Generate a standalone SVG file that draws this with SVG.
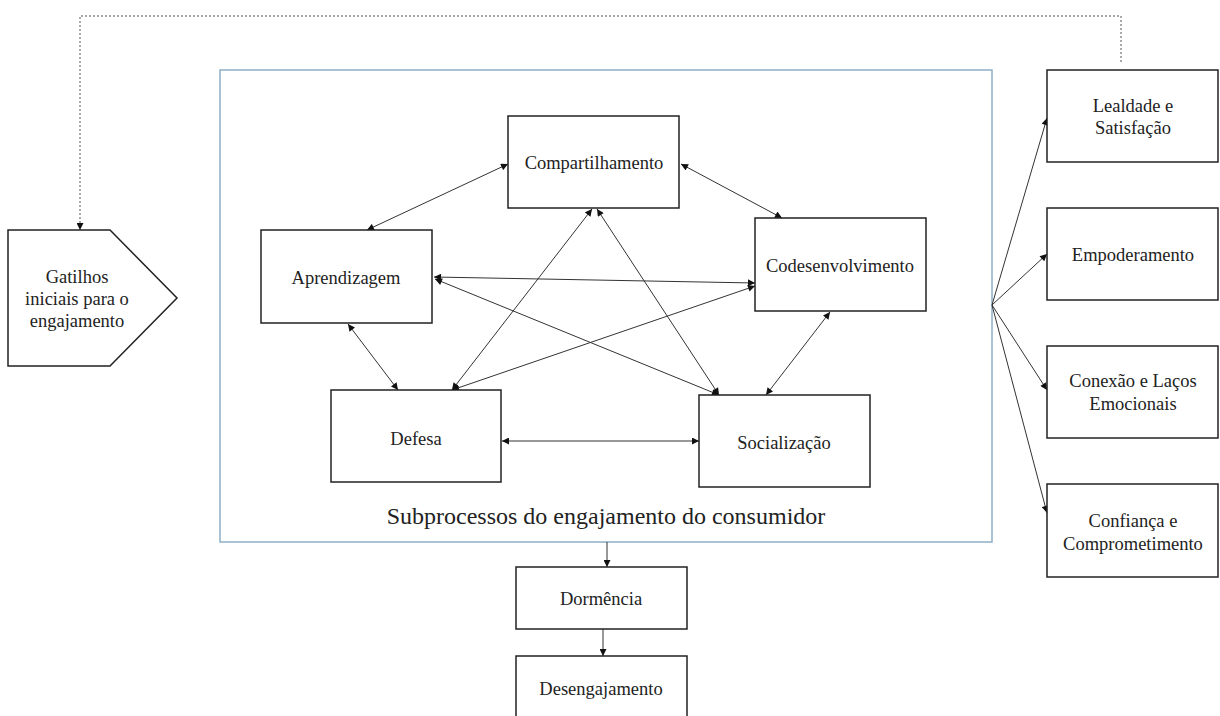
<svg xmlns="http://www.w3.org/2000/svg" width="1220" height="716" viewBox="0 0 1220 716">
<style>
.box{fill:#fff;stroke:#222;stroke-width:1.5}
.t{font-family:'Liberation Serif','DejaVu Serif',serif;font-size:18.5px;fill:#222;text-anchor:middle}
.c{fill:none;stroke:#333;stroke-width:1}
.b{marker-start:url(#ah);marker-end:url(#ah)}
.e{marker-end:url(#ah)}
</style>
<defs>
<marker id="ah" viewBox="0 0 10 10" refX="10" refY="5" markerWidth="9" markerHeight="7" markerUnits="userSpaceOnUse" orient="auto-start-reverse">
<path d="M0,0 L10,5 L0,10 z" fill="#111"/>
</marker>
</defs>
<rect width="1220" height="716" fill="#fff"/>

<g id="container">
<rect x="220" y="70" width="772" height="472" fill="none" stroke="#8fb0c6" stroke-width="1.5"/>
<text x="606" y="524" class="t" font-family="Liberation Serif, DejaVu Serif, serif" style="font-size:24px">Subprocessos do engajamento do consumidor</text>
</g>

<g id="connectors">
<path class="c e" d="M1121,62 V16 H80 V230" stroke-dasharray="2,2" style="stroke:#555"/>
<line class="c b" x1="367" y1="230" x2="508" y2="164"/>
<line class="c b" x1="681" y1="164" x2="782" y2="218"/>
<line class="c b" x1="434" y1="277" x2="755" y2="283"/>
<line class="c b" x1="435" y1="279" x2="719" y2="395"/>
<line class="c b" x1="592" y1="209" x2="452" y2="390"/>
<line class="c b" x1="597" y1="209" x2="719" y2="395"/>
<line class="c b" x1="755" y1="286" x2="452" y2="390"/>
<line class="c b" x1="348" y1="324" x2="398" y2="390"/>
<line class="c b" x1="830" y1="312" x2="766" y2="395"/>
<line class="c b" x1="502" y1="441" x2="699" y2="441"/>
<line class="c e" x1="992" y1="305" x2="1047" y2="118"/>
<line class="c e" x1="992" y1="305" x2="1047" y2="254"/>
<line class="c e" x1="992" y1="305" x2="1047" y2="390"/>
<line class="c e" x1="992" y1="305" x2="1047" y2="513"/>
<line class="c e" x1="607" y1="542" x2="607" y2="567"/>
<line class="c e" x1="603" y1="629" x2="603" y2="656"/>
</g>

<g id="gatilhos">
<path class="box" d="M8,230 H110 L177,298 L110,366 H8 Z"/>
<text class="t" x="77" y="283">Gatilhos</text>
<text class="t" x="77" y="305">iniciais para o</text>
<text class="t" x="77" y="327">engajamento</text>
</g>

<g id="compartilhamento">
<rect class="box" x="508" y="116" width="171" height="92"/>
<text class="t" x="594" y="169">Compartilhamento</text>
</g>
<g id="aprendizagem">
<rect class="box" x="261" y="230" width="171" height="93"/>
<text class="t" x="346" y="284">Aprendizagem</text>
</g>
<g id="codesenvolvimento">
<rect class="box" x="755" y="218" width="171" height="93"/>
<text class="t" x="840" y="272">Codesenvolvimento</text>
</g>
<g id="defesa">
<rect class="box" x="331" y="390" width="170" height="92"/>
<text class="t" x="416" y="445">Defesa</text>
</g>
<g id="socializacao">
<rect class="box" x="699" y="395" width="171" height="92"/>
<text class="t" x="784" y="449">Socialização</text>
</g>

<g id="lealdade">
<rect class="box" x="1047" y="70" width="171" height="92"/>
<text class="t" x="1133" y="112">Lealdade e</text>
<text class="t" x="1133" y="134">Satisfação</text>
</g>
<g id="empoderamento">
<rect class="box" x="1047" y="208" width="171" height="92"/>
<text class="t" x="1133" y="261">Empoderamento</text>
</g>
<g id="conexao">
<rect class="box" x="1047" y="346" width="171" height="92"/>
<text class="t" x="1133" y="387">Conexão e Laços</text>
<text class="t" x="1133" y="410">Emocionais</text>
</g>
<g id="confianca">
<rect class="box" x="1047" y="484" width="171" height="93"/>
<text class="t" x="1133" y="527">Confiança e</text>
<text class="t" x="1133" y="550">Comprometimento</text>
</g>

<g id="dormencia">
<rect class="box" x="516" y="567" width="171" height="62"/>
<text class="t" x="601" y="605">Dormência</text>
</g>
<g id="desengajamento">
<rect class="box" x="516" y="656" width="171" height="70"/>
<text class="t" x="601" y="695">Desengajamento</text>
</g>
</svg>
